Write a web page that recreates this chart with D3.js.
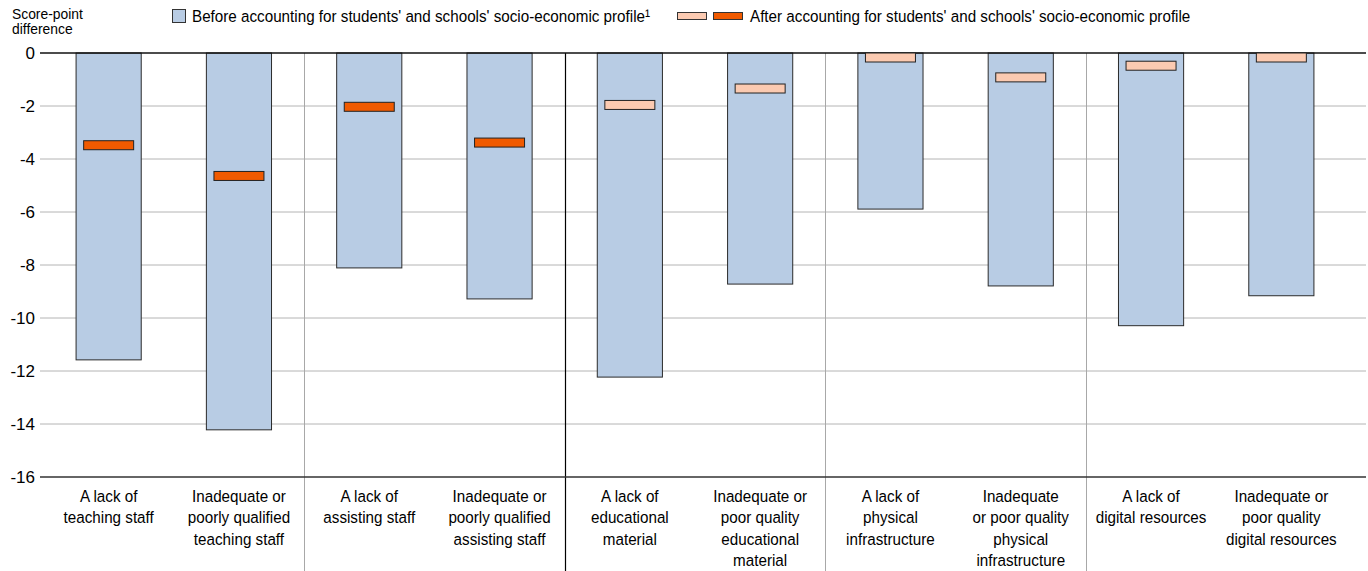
<!DOCTYPE html>
<html><head><meta charset="utf-8">
<script src="https://cdn.jsdelivr.net/npm/d3@7"></script>
<style>
body{margin:0;background:#fff;}
text{font-family:"Liberation Sans Narrow","Arial Narrow","Liberation Sans",Arial,sans-serif;fill:#000;}
</style></head>
<body><svg id="c" width="1368" height="571"></svg>
<script>
const categories = [
  ["A lack of","teaching staff"],
  ["Inadequate or","poorly qualified","teaching staff"],
  ["A lack of","assisting staff"],
  ["Inadequate or","poorly qualified","assisting staff"],
  ["A lack of","educational","material"],
  ["Inadequate or","poor quality","educational","material"],
  ["A lack of","physical","infrastructure"],
  ["Inadequate","or poor quality","physical","infrastructure"],
  ["A lack of","digital resources"],
  ["Inadequate or","poor quality","digital resources"]
];
const before = [-11.58, -14.22, -8.11, -9.28, -12.23, -8.72, -5.89, -8.79, -10.29, -9.16];
const after = [-3.48, -4.64, -2.03, -3.38, -1.96, -1.34, -0.17, -0.92, -0.48, -0.17];
const afterSignificant = [true, true, true, true, false, false, false, false, false, false];
const yTicks = [0, -2, -4, -6, -8, -10, -12, -14, -16];
const groupDividers = [2, 4, 6, 8];
const mainDivider = 4;
const legendBefore = "Before accounting for students' and schools' socio-economic profile\u00B9";
const legendAfter = "After accounting for students' and schools' socio-economic profile";
const yTitle = ["Score-point","difference"];

const svg = d3.select("#c");
const x = d3.scaleBand().domain(d3.range(categories.length)).range([43.5, 1346.5]).paddingInner(0.5).paddingOuter(0.25);
const y = d3.scaleLinear().domain([-16, 0]).range([477, 53]);
const gridLeft = 40, gridRight = 1366;
const SX = 0.895;

function narrowText(parent, tx, ty, size, anchor, lines, lh) {
  const g = parent.append("g").attr("transform", `translate(${tx},${ty}) scale(${SX},1)`);
  const t = g.append("text").attr("text-anchor", anchor).attr("font-size", size).attr("x", 0).attr("y", 0);
  lines.forEach((l, j) => t.append("tspan").attr("x", 0).attr("dy", j === 0 ? 0 : lh).text(l));
  return t;
}

// gridlines
svg.append("g").selectAll("line").data(yTicks.filter(t => t !== 0 && t !== -16)).join("line")
  .attr("x1", gridLeft).attr("x2", gridRight)
  .attr("y1", d => y(d)).attr("y2", d => y(d))
  .attr("stroke", "#b4b4b4").attr("stroke-width", 1);

// dividers
const bw = (x.range()[1] - x.range()[0]) / categories.length;
svg.append("g").selectAll("line").data(groupDividers).join("line")
  .attr("x1", d => Math.round(x.range()[0] + d * bw) + 0.5)
  .attr("x2", d => Math.round(x.range()[0] + d * bw) + 0.5)
  .attr("y1", y(0)).attr("y2", 571)
  .attr("stroke", d => d === mainDivider ? "#000" : "#a8a8a8")
  .attr("stroke-width", d => d === mainDivider ? 1.2 : 1);

// bars
svg.append("g").selectAll("rect").data(before).join("rect")
  .attr("x", (d, i) => x(i)).attr("width", x.bandwidth())
  .attr("y", y(0)).attr("height", d => y(d) - y(0))
  .attr("fill", "#b8cce4").attr("stroke", "#2b2b2b").attr("stroke-width", 1);

// axis lines
svg.append("line").attr("x1", gridLeft).attr("x2", gridRight).attr("y1", y(0)).attr("y2", y(0))
  .attr("stroke", "#111").attr("stroke-width", 1.5);
svg.append("line").attr("x1", gridLeft).attr("x2", gridRight).attr("y1", y(-16)).attr("y2", y(-16))
  .attr("stroke", "#333").attr("stroke-width", 1.5);

// markers
const mw = 50, mh = 9;
svg.append("g").selectAll("rect").data(after).join("rect")
  .attr("x", (d, i) => x(i) + x.bandwidth() / 2 - mw / 2).attr("width", mw)
  .attr("y", d => Math.max(y(d) - mh / 2, y(0))).attr("height", d => y(d) + mh / 2 - Math.max(y(d) - mh / 2, y(0)))
  .attr("fill", (d, i) => afterSignificant[i] ? "#f05a00" : "#fbcab1")
  .attr("stroke", "#222").attr("stroke-width", 1);

// y ticks
const yAxis = d3.axisLeft(y).tickValues(yTicks).tickSize(0).tickPadding(0).tickFormat(d => d === 0 ? "0" : "-" + Math.abs(d));
const ya = svg.append("g").attr("transform", "translate(35,0)").call(yAxis);
ya.select(".domain").remove();
ya.selectAll("text").attr("font-size", 17).attr("font-family", null).attr("dy", "0.35em");

// category labels
const lab = svg.append("g");
categories.forEach((lines, i) => {
  narrowText(lab, x(i) + x.bandwidth() / 2, 502, 17, "middle", lines, 21.5);
});

// y title
narrowText(svg, 12, 19, 15.5, "start", yTitle, 15);

// legend
svg.append("rect").attr("x", 172.5).attr("y", 9.5).attr("width", 13).attr("height", 13)
  .attr("fill", "#b8cce4").attr("stroke", "#333");
narrowText(svg, 192, 22, 17, "start", [legendBefore], 0);
svg.append("rect").attr("x", 677.5).attr("y", 12.5).attr("width", 29).attr("height", 7)
  .attr("fill", "#fbcab1").attr("stroke", "#333");
svg.append("rect").attr("x", 713.5).attr("y", 12.5).attr("width", 29).attr("height", 7)
  .attr("fill", "#f05a00").attr("stroke", "#333");
narrowText(svg, 750, 22, 17, "start", [legendAfter], 0);
</script></body></html>
